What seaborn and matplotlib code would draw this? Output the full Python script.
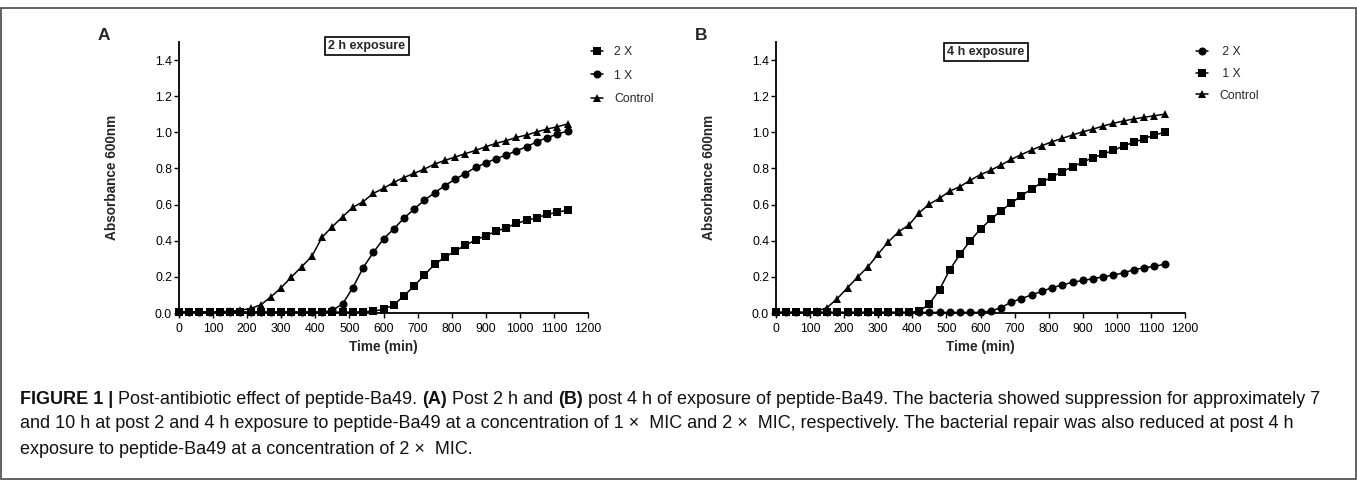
import matplotlib
matplotlib.use("Agg")
import matplotlib.pyplot as plt
from matplotlib.patches import Rectangle
import seaborn as sns

sns.set_style("ticks")
plt.rcParams['font.family'] = ['Liberation Sans', 'DejaVu Sans']

# sampling times (min)
time_min = [0, 30, 60, 90, 120, 150, 180, 210, 240, 270, 300, 330, 360, 390,
            420, 450, 480, 510, 540, 570, 600, 630, 660, 690, 720, 750, 780,
            810, 840, 870, 900, 930, 960, 990, 1020, 1050, 1080, 1110, 1140]

# panel A: 2 h exposure
a_2x = [0.005, 0.005, 0.005, 0.005, 0.005, 0.005, 0.005, 0.005, 0.005, 0.005,
        0.005, 0.005, 0.005, 0.005, 0.005, 0.005, 0.005, 0.005, 0.007, 0.01,
        0.02, 0.045, 0.095, 0.15, 0.21, 0.27, 0.308, 0.343, 0.375, 0.404,
        0.428, 0.452, 0.472, 0.496, 0.513, 0.527, 0.546, 0.557, 0.57]
a_1x = [0.005, 0.005, 0.005, 0.005, 0.005, 0.005, 0.005, 0.005, 0.005, 0.005,
        0.005, 0.005, 0.005, 0.005, 0.005, 0.015, 0.05, 0.14, 0.25, 0.335,
        0.41, 0.465, 0.525, 0.575, 0.625, 0.665, 0.705, 0.74, 0.772, 0.806,
        0.83, 0.854, 0.874, 0.898, 0.92, 0.948, 0.97, 0.99, 1.007]
a_ctrl = [0.005, 0.005, 0.005, 0.005, 0.007, 0.01, 0.015, 0.025, 0.045, 0.09,
          0.14, 0.2, 0.256, 0.315, 0.42, 0.478, 0.533, 0.585, 0.616, 0.662,
          0.69, 0.723, 0.75, 0.773, 0.797, 0.824, 0.845, 0.863, 0.882, 0.9,
          0.92, 0.939, 0.954, 0.972, 0.985, 1.003, 1.018, 1.031, 1.046]

# panel B: 4 h exposure
b_2x = [0.003, 0.003, 0.003, 0.003, 0.003, 0.003, 0.003, 0.003, 0.003, 0.003,
        0.003, 0.003, 0.003, 0.003, 0.003, 0.003, 0.003, 0.003, 0.003, 0.003,
        0.003, 0.01, 0.03, 0.06, 0.08, 0.10, 0.12, 0.14, 0.155, 0.17,
        0.18, 0.19, 0.20, 0.21, 0.222, 0.24, 0.25, 0.258, 0.27]
b_1x = [0.003, 0.003, 0.003, 0.003, 0.003, 0.003, 0.003, 0.003, 0.003, 0.003,
        0.003, 0.003, 0.003, 0.003, 0.01, 0.05, 0.13, 0.24, 0.325, 0.40,
        0.465, 0.518, 0.566, 0.607, 0.65, 0.686, 0.723, 0.754, 0.782, 0.81,
        0.835, 0.86, 0.88, 0.90, 0.925, 0.945, 0.965, 0.985, 1.0]
b_ctrl = [0.003, 0.003, 0.003, 0.003, 0.01, 0.03, 0.08, 0.14, 0.2, 0.256,
          0.327, 0.395, 0.45, 0.487, 0.555, 0.603, 0.635, 0.675, 0.70, 0.735,
          0.766, 0.79, 0.819, 0.85, 0.877, 0.902, 0.926, 0.948, 0.967, 0.985,
          1.003, 1.018, 1.035, 1.05, 1.063, 1.074, 1.083, 1.092, 1.1]

x_ticks = [0, 100, 200, 300, 400, 500, 600, 700, 800, 900, 1000, 1100, 1200]
y_ticks = [0.0, 0.2, 0.4, 0.6, 0.8, 1.0, 1.2, 1.4]

W, H = 1357, 480
fig = plt.figure(figsize=(W / 100, H / 100), dpi=100)


def px(x, y):
    return x / W, 1 - y / H


def draw_panel(left_px, series, letter, title, title_xy, leg_xy, leg_space):
    ax = fig.add_axes([left_px / W, 1 - 313 / H, 409 / W, (313 - 42) / H])
    for vals, marker, label in series:
        sns.lineplot(x=time_min, y=vals, ax=ax, color="black", marker=marker,
                     markersize=5.8, markeredgewidth=0, linewidth=1.1,
                     label=label, clip_on=False, errorbar=None)
    ax.set_xlim(0, 1200)
    ax.set_ylim(0, 1.5)
    ax.set_xticks(x_ticks)
    ax.set_yticks(y_ticks)
    ax.set_yticklabels([f"{v:.1f}" for v in y_ticks])
    sns.despine(ax=ax)
    for s in ["left", "bottom"]:
        ax.spines[s].set_linewidth(1.3)
        ax.spines[s].set_color("black")
    ax.tick_params(axis="both", labelsize=8.8, length=3.5, width=1.0,
                   colors="black")
    ax.tick_params(axis="x", pad=4)
    ax.tick_params(axis="y", pad=1.5)
    ax.set_xlabel("Time (min)", fontsize=9.8, fontweight="bold", labelpad=3)
    ax.set_ylabel("Absorbance 600nm", fontsize=9.8, fontweight="bold",
                  labelpad=26)
    lx, ly = px(*leg_xy)
    ax.legend(loc="upper left", bbox_to_anchor=(lx, ly),
              bbox_transform=fig.transFigure, frameon=False, fontsize=8.8,
              handlelength=1.0, handletextpad=0.9, labelspacing=leg_space,
              borderpad=0, borderaxespad=0)
    tx, ty = px(*title_xy)
    fig.text(tx, ty, title, fontsize=9, fontweight="bold", ha="center",
             va="center", bbox=dict(boxstyle="square,pad=0.25", fc="white",
                                    ec="black", lw=1.2))
    lx, ly = px(left_px - 81, 36)
    fig.text(lx, ly, letter, fontsize=12.5, fontweight="bold", ha="left",
             va="center")
    return ax


draw_panel(179, [(a_2x, "s", "2 X"), (a_1x, "o", "1 X"),
                 (a_ctrl, "^", "Control")],
           "A", "2 h exposure", (367, 46), (591, 46), 0.95)
draw_panel(776, [(b_2x, "o", " 2 X"), (b_1x, "s", " 1 X"),
                 (b_ctrl, "^", "Control")],
           "B", "4 h exposure", (986, 52), (1196, 46), 0.8)

# caption, drawn as runs of regular and bold text
caption_lines = [
    [("FIGURE 1 | ", "bold"), ("Post-antibiotic effect of peptide-Ba49. ", "normal"),
     ("(A)", "bold"), (" Post 2 h and ", "normal"), ("(B)", "bold"),
     (" post 4 h of exposure of peptide-Ba49. The bacteria showed suppression "
      "for approximately 7", "normal")],
    [("and 10 h at post 2 and 4 h exposure to peptide-Ba49 at a concentration "
      "of 1 \u00d7  MIC and 2 \u00d7  MIC, respectively. The bacterial repair was "
      "also reduced at post 4 h", "normal")],
    [("exposure to peptide-Ba49 at a concentration of 2 \u00d7  MIC.", "normal")],
]
caption_y = [399, 424, 449]

fig.canvas.draw()
renderer = fig.canvas.get_renderer()
for runs, yy in zip(caption_lines, caption_y):
    x = 20
    for txt, weight in runs:
        fx, fy = px(x, yy)
        t = fig.text(fx, fy, txt, fontsize=13, fontweight=weight,
                     ha="left", va="center", color="#111111")
        bb = t.get_window_extent(renderer=renderer)
        x += bb.width

# figure frame
fig.add_artist(Rectangle((0.001, 0.002), 0.998, 0.981, transform=fig.transFigure,
                         fill=False, ec="#555555", lw=1.3))

fig.savefig("out.png", dpi=100)
